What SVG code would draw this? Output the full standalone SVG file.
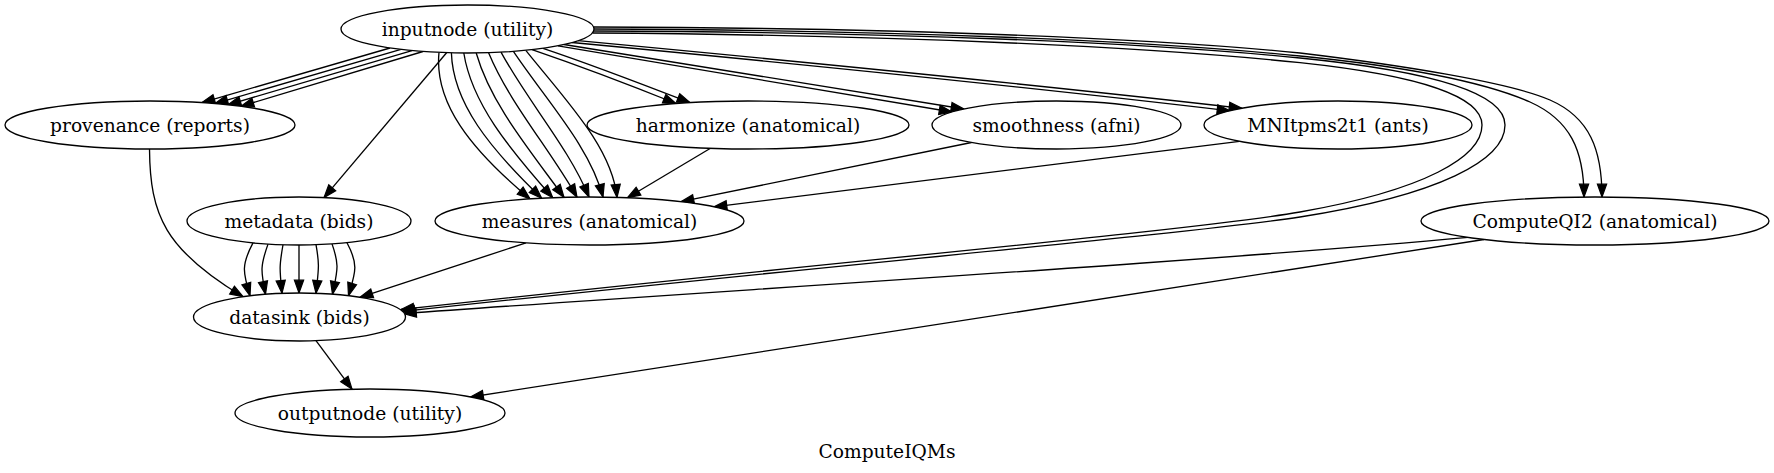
<svg xmlns="http://www.w3.org/2000/svg" width="1774" height="473" viewBox="0 0 1774 473">
<style>
.n ellipse{fill:#fff;stroke:#000;stroke-width:1.33}
.n text,.t{font-family:"DejaVu Serif","Liberation Serif",serif;font-size:18.67px;fill:#000;text-anchor:middle}
#edges path{fill:none;stroke:#000;stroke-width:1.33;marker-end:url(#ah)}
</style>
<defs>
<marker id="ah" viewBox="0 0 14 10" refX="13.3" refY="5" markerWidth="14" markerHeight="10" markerUnits="userSpaceOnUse" orient="auto" overflow="visible">
<path d="M0.5,0.4 L13.3,5 L0.5,9.6 z" fill="#000" stroke="#000" stroke-width="1.2"/>
</marker>
</defs>
<rect width="1774" height="473" fill="#fff"/>
<g id="edges">
<path d="M390,48 L202,102.6"/>
<path d="M401,49.4 L215,103.6"/>
<path d="M412,50.6 L228,104.8"/>
<path d="M423,51.5 L241,106.3"/>
<path d="M447,52.3 L324,197.6"/>
<path d="M439,52.4 C434,102.4 470,148.85 530,198.85"/>
<path d="M451.4,52.8 C452.8,102.8 489.6,148.2 541.7,198.2"/>
<path d="M463.8,53 C471.7,103 508.4,147.7 552.7,197.7"/>
<path d="M476.2,53 C490.5,103 527.6,147.3 564,197.3"/>
<path d="M488.6,52.7 C509.3,102.7 548.4,147.1 577,197.1"/>
<path d="M501,52.1 C528.1,102.1 568.3,147 589,197"/>
<path d="M513.4,51.4 C547,101.4 590.1,147.1 603,197.1"/>
<path d="M525.8,50.3 C565.8,100.3 612,147.4 617,197.4"/>
<path d="M532,49.6 C580,66 630,85 676,103.5"/>
<path d="M543,48.3 C590,64 642,84 690,102.6"/>
<path d="M558,45.8 C700,70 830,92 952,112"/>
<path d="M564,44.5 C705,68 840,90 964,109"/>
<path d="M572,42.5 C800,64 1020,86 1230,110.8"/>
<path d="M578,40.7 C805,62 1030,84 1242,108.3"/>
<path d="M594,27 C900,28 1150,38 1300,53 C1400,65 1510,82.4 1550,100 C1590,117.6 1602,150 1602,197"/>
<path d="M594,29 C900,30 1150,41 1300,56 C1400,66 1480,80 1530,102 C1570,120 1584,150 1584,197"/>
<path d="M594,31 C900,32 1150,43 1300,58 C1440,72 1505,95 1505,125 C1505,160 1440,195 1300,217 C1190,234 800,268 402,311.5"/>
<path d="M593,33 C900,35 1150,47 1300,62.7 C1425,76 1482,98 1482,125 C1482,157 1425,190 1300,212 C1190,231 800,265 401,309.5"/>
<path d="M149.5,149 C150,215 165,250 243,296.7"/>
<path d="M253,242.9 C241.3,264.9 242.8,271.8 250,295.8"/>
<path d="M268,244.1 C260.2,266.1 260.7,270.3 265.5,294.3"/>
<path d="M283,244.75 C279.1,266.75 279.6,269.35 282,293.35"/>
<path d="M299,245 C299,267 299,269 299,293"/>
<path d="M316,244.7 C319.9,266.7 318.4,269.3 316,293.3"/>
<path d="M332,243.9 C339.8,265.9 337.3,270.2 332.5,294.2"/>
<path d="M347,242.7 C358.7,264.7 355.7,271.7 348.5,295.7"/>
<path d="M526,242.9 L360,297.3"/>
<path d="M710.5,148.3 L627.5,197.7"/>
<path d="M971.5,142.5 L681,201.7"/>
<path d="M1239.5,141.3 L714,206.8"/>
<path d="M1468,237.4 C1200,262 700,292 403.5,313.5"/>
<path d="M1484,239.5 C1300,268 900,330 470.5,397"/>
<path d="M316,340.7 L352,389.2"/>
</g>
<g id="inputnode" class="n"><ellipse cx="467.5" cy="29" rx="126.5" ry="24"/><text x="467.5" y="35.5">inputnode (utility)</text></g>
<g id="provenance" class="n"><ellipse cx="150" cy="125" rx="145" ry="24"/><text x="150" y="131.5">provenance (reports)</text></g>
<g id="harmonize" class="n"><ellipse cx="748" cy="125" rx="161" ry="24"/><text x="748" y="131.5">harmonize (anatomical)</text></g>
<g id="smoothness" class="n"><ellipse cx="1056.5" cy="125" rx="124.5" ry="24"/><text x="1056.5" y="131.5">smoothness (afni)</text></g>
<g id="mnitpms2t1" class="n"><ellipse cx="1338" cy="125" rx="134" ry="24"/><text x="1338" y="131.5">MNItpms2t1 (ants)</text></g>
<g id="metadata" class="n"><ellipse cx="299" cy="221" rx="112" ry="24"/><text x="299" y="227.5">metadata (bids)</text></g>
<g id="measures" class="n"><ellipse cx="589.5" cy="221" rx="154.5" ry="24"/><text x="589.5" y="227.5">measures (anatomical)</text></g>
<g id="computeqi2" class="n"><ellipse cx="1595" cy="221" rx="174" ry="24"/><text x="1595" y="227.5">ComputeQI2 (anatomical)</text></g>
<g id="datasink" class="n"><ellipse cx="299.5" cy="317" rx="106" ry="24"/><text x="299.5" y="323.5">datasink (bids)</text></g>
<g id="outputnode" class="n"><ellipse cx="370" cy="413" rx="135" ry="24"/><text x="370" y="419.5">outputnode (utility)</text></g>
<text class="t" x="887" y="458">ComputeIQMs</text>
</svg>
